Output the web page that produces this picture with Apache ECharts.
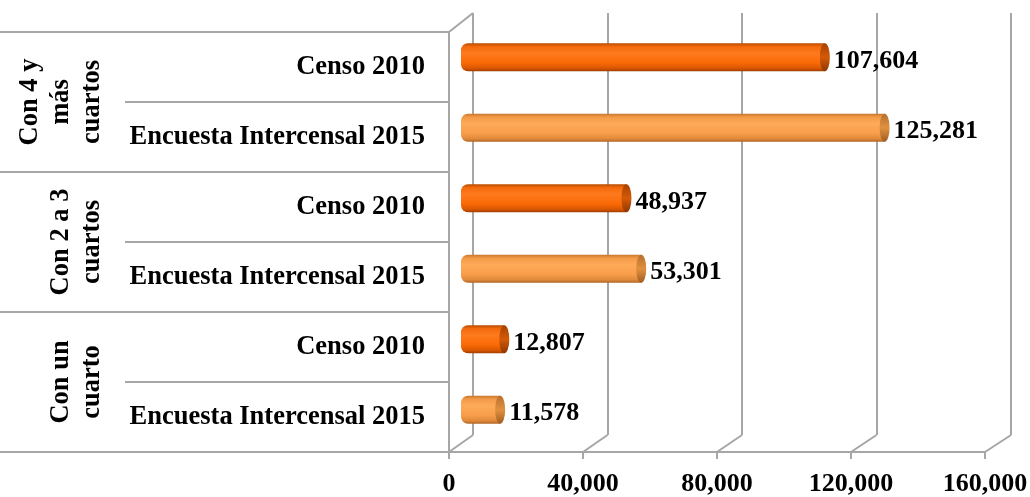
<!DOCTYPE html>
<html><head><meta charset="utf-8">
<script src="https://cdn.jsdelivr.net/npm/echarts@6/dist/echarts.min.js"></script>
<style>html,body{margin:0;padding:0;background:#fff}#c{width:1030px;height:497px}</style>
</head><body><div id="c"></div>
<script>
const groups = ['Con 4 y\nmás\ncuartos', 'Con 2 a 3\ncuartos', 'Con un\ncuarto'];
const sources = ['Censo 2010', 'Encuesta Intercensal 2015'];
const censo2010 = [107604, 48937, 12807];
const encuesta2015 = [125281, 53301, 11578];
const valueTicks = [0, 40000, 80000, 120000, 160000];

const FONT = '"Liberation Serif","Times New Roman",serif';
const GRAY = '#A6A6A6';

const rowLabels = [], rowValues = [], rowSource = [];
groups.forEach((g, i) => {
  rowLabels.push(sources[0]); rowValues.push(censo2010[i]); rowSource.push(0);
  rowLabels.push(sources[1]); rowValues.push(encuesta2015[i]); rowSource.push(1);
});

function grad(stops) {
  return new echarts.graphic.LinearGradient(0, 0, 0, 1, stops.map((c, i) => ({offset: c[0], color: c[1]})));
}
const barColors = [
  grad([[0,'#B84A00'],[0.12,'#F26A0C'],[0.35,'#FF7A1E'],[0.7,'#FA6A05'],[0.9,'#D75600'],[1,'#9E3D00']]),
  grad([[0,'#C8762E'],[0.12,'#F39A48'],[0.35,'#FDAA58'],[0.7,'#F89E4B'],[0.9,'#DE883A'],[1,'#B06426']])
];
const capColors = [
  grad([[0,'#A84200'],[0.5,'#D45A08'],[1,'#8E3600']]),
  grad([[0,'#B8702E'],[0.5,'#E0913F'],[1,'#A05E22']])
];

const chart = echarts.init(document.getElementById('c'), null, {renderer: 'canvas'});
const fmt = v => v.toLocaleString('en-US');
const G = {containLabel: false, outerBoundsMode: 'none'};

const option = {
  animation: false,
  grid: [
    Object.assign({left: 449, right: 45, top: 32, bottom: 45}, G),   // 0 front
    Object.assign({left: 473, right: 19, top: 13, bottom: 62}, G),   // 1 back
    Object.assign({left: 461, right: 28, top: 22, bottom: 52}, G),   // 2 bars (middle depth)
    Object.assign({left: 0, right: 581, top: 32, bottom: 45}, G),    // 3 group dividers
    Object.assign({left: 125, right: 581, top: 32, bottom: 45}, G)   // 4 row dividers
  ],
  xAxis: [
    {gridIndex: 0, type: 'value', min: 0, max: 160000, interval: 40000,
     axisLine: {show: true, lineStyle: {color: GRAY, width: 2}},
     axisTick: {show: true, length: 7, lineStyle: {color: GRAY, width: 2}},
     splitLine: {show: false},
     axisLabel: {margin: 19, color: '#000', fontFamily: FONT, fontWeight: 'bold', fontSize: 26, formatter: fmt}},
    {gridIndex: 1, type: 'value', min: 0, max: 160000, interval: 40000,
     axisLine: {show: false}, axisTick: {show: false}, axisLabel: {show: false},
     splitLine: {show: true, lineStyle: {color: GRAY, width: 2}}},
    {gridIndex: 2, type: 'value', min: 0, max: 160000, interval: 40000,
     axisLine: {show: false}, axisTick: {show: false}, axisLabel: {show: false}, splitLine: {show: false}},
    {gridIndex: 3, type: 'value', min: 0, max: 1, show: false},
    {gridIndex: 4, type: 'value', min: 0, max: 1, show: false}
  ],
  yAxis: [
    {gridIndex: 0, type: 'category', data: rowLabels, inverse: true, position: 'left',
     axisLine: {show: true, lineStyle: {color: GRAY, width: 2}},
     axisTick: {show: false}, splitLine: {show: false},
     axisLabel: {margin: 24, color: '#000', fontFamily: FONT, fontWeight: 'bold', fontSize: 26.5, interval: 0}},
    {gridIndex: 0, type: 'category', data: groups, inverse: true, position: 'left', offset: 0,
     axisLine: {show: false}, axisTick: {show: false}, splitLine: {show: false},
     axisLabel: {margin: 341, rotate: 90, color: '#000', fontFamily: FONT, fontWeight: 'bold', fontSize: 26.5, lineHeight: 31, interval: 0}},
    {gridIndex: 2, type: 'category', data: rowLabels, inverse: true,
     axisLine: {show: false}, axisTick: {show: false}, axisLabel: {show: false}, splitLine: {show: false}},
    {gridIndex: 1, type: 'category', data: rowLabels, inverse: true, show: false},
    {gridIndex: 3, type: 'category', data: groups, inverse: true,
     axisLine: {show: false}, axisTick: {show: false}, axisLabel: {show: false},
     splitLine: {show: true, interval: 0, showMinLine: true, showMaxLine: true, lineStyle: {color: GRAY, width: 2}}},
    {gridIndex: 4, type: 'category', data: rowLabels, inverse: true,
     axisLine: {show: false}, axisTick: {show: false}, axisLabel: {show: false},
     splitLine: {show: true, interval: 0, showMinLine: true, showMaxLine: true, lineStyle: {color: GRAY, width: 2}}}
  ],
  series: [
    {type: 'bar', xAxisIndex: 2, yAxisIndex: 2, barWidth: 28,
     data: rowValues.map((v, i) => ({value: v, itemStyle: {color: barColors[rowSource[i]], borderRadius: [7, 0, 0, 7]}})),
     label: {show: true, position: 'right', distance: 9, offset: [0, 4], color: '#000', fontFamily: FONT, fontWeight: 'bold', fontSize: 26,
             formatter: p => fmt(p.value)}},
    {type: 'pictorialBar', xAxisIndex: 2, yAxisIndex: 2, symbol: 'circle', symbolSize: [10, 28],
     symbolPosition: 'end', symbolOffset: ['50%', 0], z: 3,
     data: rowValues.map((v, i) => ({value: v, itemStyle: {color: capColors[rowSource[i]]}}))}
  ]
};
chart.setOption(option);

function addSlants() {
  const m = chart.getModel();
  const front = m.getComponent('grid', 0).coordinateSystem.getRect();
  const back = m.getComponent('grid', 1).coordinateSystem.getRect();
  const els = [];
  const ls = {stroke: GRAY, lineWidth: 2};
  valueTicks.forEach(v => {
    const xf = chart.convertToPixel({xAxisIndex: 0}, v);
    const xb = chart.convertToPixel({xAxisIndex: 1}, v);
    els.push({type: 'line', shape: {x1: xf, y1: front.y + front.height, x2: xb, y2: back.y + back.height}, style: ls, z: 1});
  });
  const xf0 = chart.convertToPixel({xAxisIndex: 0}, valueTicks[0]);
  const xb0 = chart.convertToPixel({xAxisIndex: 1}, valueTicks[0]);
  els.push({type: 'line', shape: {x1: xf0, y1: front.y, x2: xb0, y2: back.y}, style: ls, z: 1});
  chart.setOption({graphic: els});
}
addSlants();
</script></body></html>
